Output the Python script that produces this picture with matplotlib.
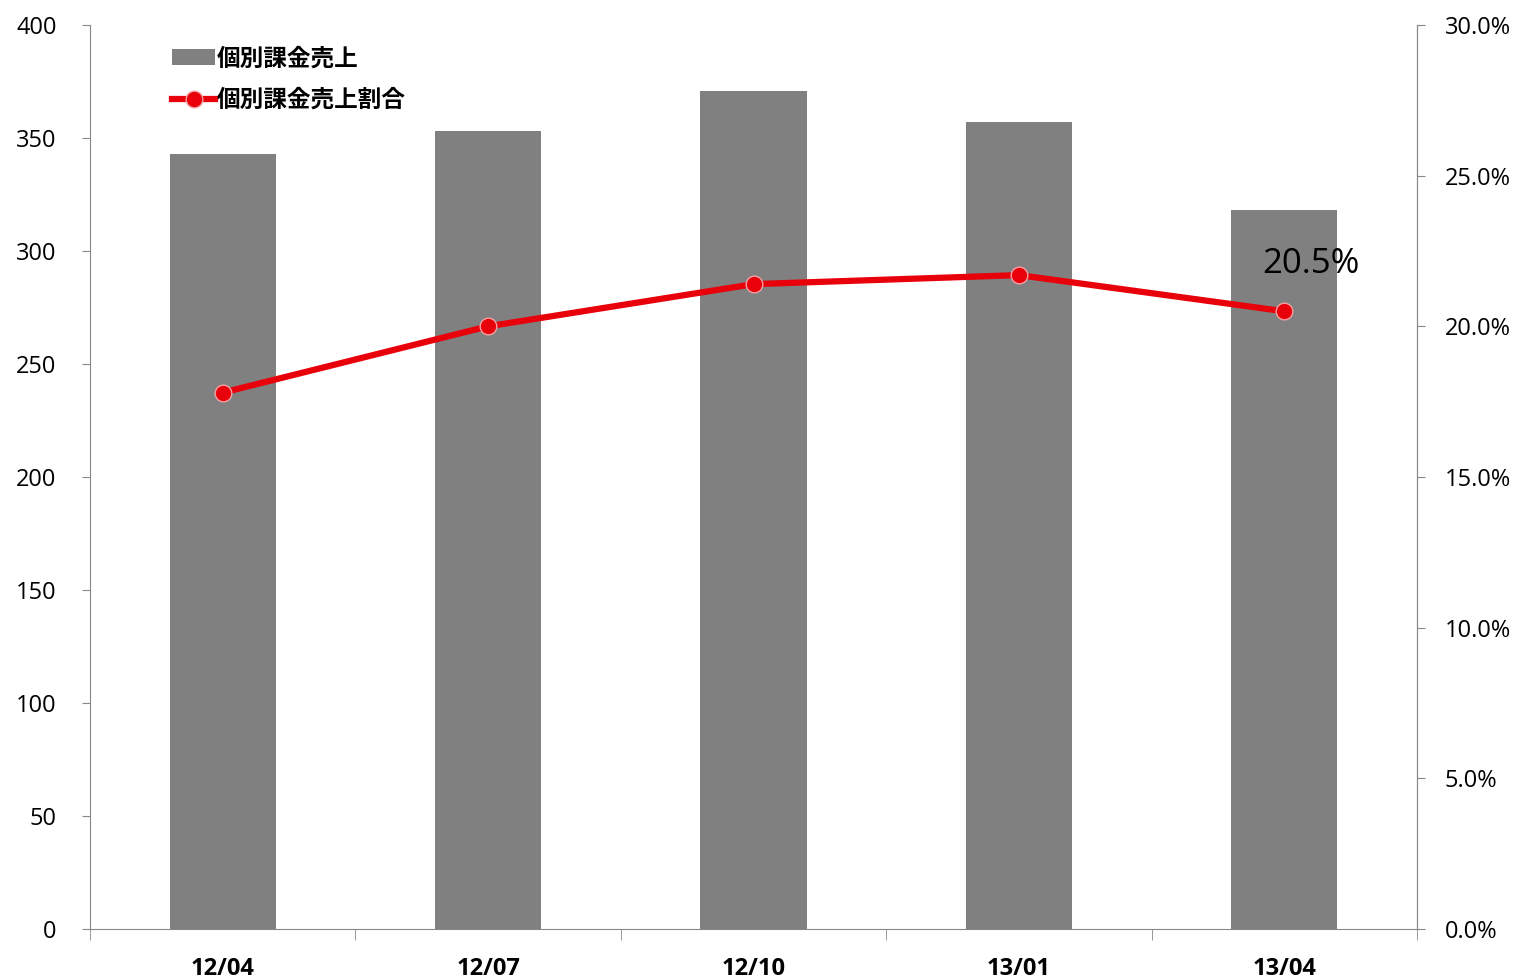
import matplotlib
matplotlib.use("Agg")
import matplotlib.pyplot as plt
from matplotlib.ticker import FixedLocator, FuncFormatter

plt.rcParams['font.family'] = ['Open Sans', 'Noto Sans CJK JP', 'DejaVu Sans']

categories = ["12/04", "12/07", "12/10", "13/01", "13/04"]
sales = [343, 353, 371, 357, 318]
ratio = [17.8, 20.0, 21.4, 21.7, 20.5]
bar_label = "個別課金売上"
line_label = "個別課金売上割合"
left_ticks = [0, 50, 100, 150, 200, 250, 300, 350, 400]
right_ticks = [0, 5, 10, 15, 20, 25, 30]

fig = plt.figure(figsize=(15.22, 9.8), dpi=100)
ax = fig.add_axes([90/1522, 1 - 929/980, (1417-90)/1522, (929-25)/980])
x = list(range(len(categories)))
bars = ax.bar(x, sales, width=0.4, color="#808080", label=bar_label, zorder=2)
ax.set_xlim(-0.5, len(categories) - 0.5)
ax.set_ylim(0, 400)
ax.set_yticks(left_ticks)
ax.tick_params(axis='y', labelsize=17, length=6, color="#888888", pad=18)
ax.set_xticks(x)
ax.set_xticklabels(categories, fontsize=17, fontweight='bold')
ax.tick_params(axis='x', length=0, pad=20)
ax.xaxis.set_minor_locator(FixedLocator([i - 0.5 for i in range(len(categories) + 1)]))
ax.tick_params(axis='x', which='minor', length=8, color="#888888")
ax.spines['top'].set_visible(False)
for s in ['left', 'bottom', 'right']:
    ax.spines[s].set_color("#888888")

ax2 = ax.twinx()
ax2.set_ylim(0, 30)
ax2.set_yticks(right_ticks)
ax2.yaxis.set_major_formatter(FuncFormatter(lambda v, p: f"{v:.1f}%"))
ax2.tick_params(axis='y', labelsize=17, length=6, color="#888888", pad=14)
for s in ['top', 'left', 'bottom']:
    ax2.spines[s].set_visible(False)
ax2.spines['right'].set_color("#888888")
line, = ax2.plot(x, ratio, color="#e8000b", lw=4.5, marker='o', markersize=12,
                 markerfacecolor="#e8000b", markeredgecolor="#f4a0a0", markeredgewidth=1,
                 label=line_label, zorder=3)
ax2.annotate(f"{ratio[-1]:.1f}%", (x[-1], ratio[-1]), xytext=(19, 22), textcoords='offset points',
             ha='center', va='bottom', fontsize=25)

leg = ax.legend([bars, line], [bar_label, line_label], loc='upper left',
                bbox_to_anchor=(0.046, 1.0), frameon=False,
                prop={'family': ['Noto Sans CJK JP'], 'weight': 'bold', 'size': 17},
                handlelength=1.8, handletextpad=0.1, labelspacing=0.75)

fig.savefig("out.png", dpi=100)
